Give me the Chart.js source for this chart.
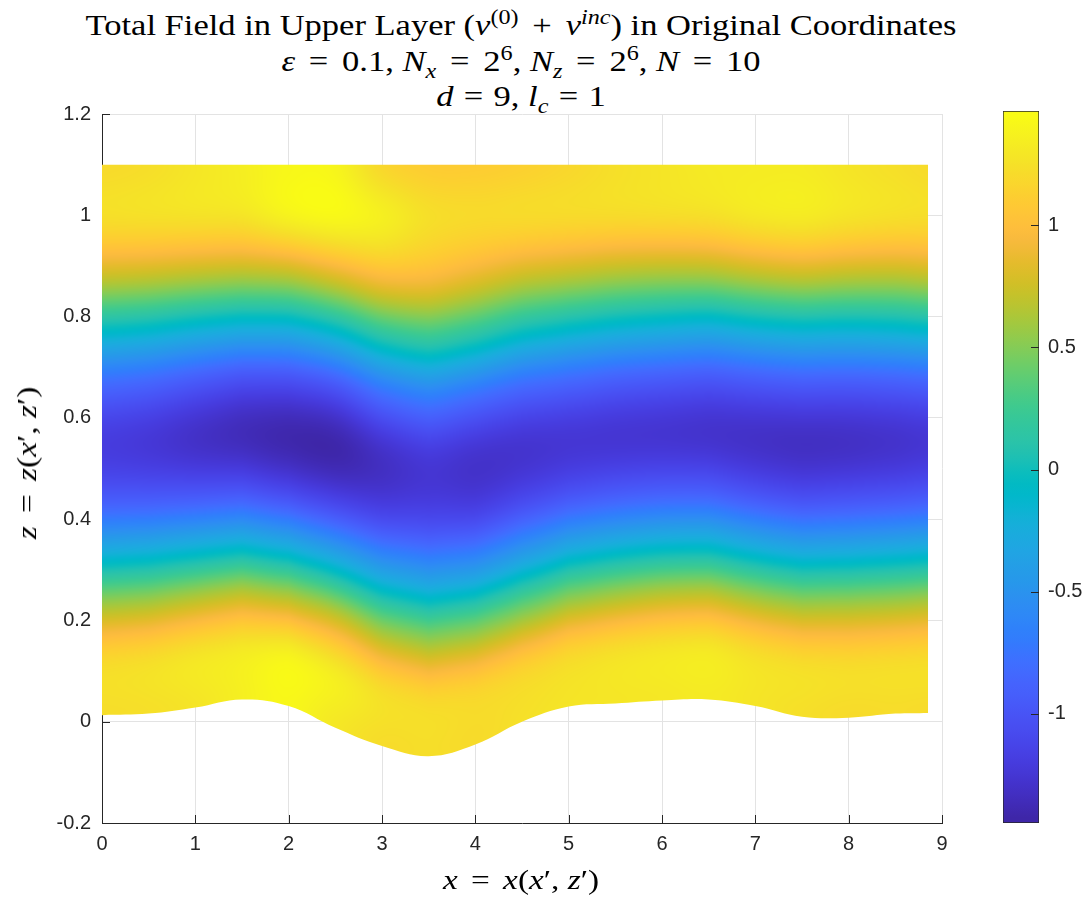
<!DOCTYPE html>
<html>
<head>
<meta charset="utf-8">
<script src="https://cdn.jsdelivr.net/npm/chart.js@4.4.1/dist/chart.umd.min.js"></script>
<style>
  body { margin: 0; background: #fff; }
  #page { position: relative; width: 1086px; height: 899px; overflow: hidden; background: #fff; }
  canvas { position: absolute; }
  .tx { position: absolute; font-family: "Liberation Serif", serif; color: #000; white-space: nowrap; }
  .ttl { left: 521px; font-size: 29px; line-height: 30px; transform: translateX(-50%) scaleX(1.19); }
  .rel { margin: 0 0.4em; }
  .rel.tight { margin: 0 0.3em; }
  sup, sub { font-size: 0.7em; line-height: 0; }
</style>
</head>
<body>
<div id="page">
  <div class="tx ttl" style="top:10px">Total Field in Upper Layer (<i>v</i><sup>(0)</sup><span class="rel">+</span><i>v</i><sup><i>inc</i></sup>) in Original Coordinates</div>
  <div class="tx ttl" style="top:46px"><i>ε</i><span class="rel">=</span>0.1, <i>N</i><sub><i>x</i></sub><span class="rel">=</span>2<sup>6</sup>, <i>N</i><sub><i>z</i></sub><span class="rel">=</span>2<sup>6</sup>, <i>N</i><span class="rel">=</span>10</div>
  <div class="tx ttl" style="top:81px"><i>d</i><span class="rel tight">=</span>9, <i>l</i><sub><i>c</i></sub><span class="rel tight">=</span>1</div>
  <canvas id="field" width="1086" height="899" style="left:0;top:0"></canvas>
  <canvas id="cbar" width="106" height="760" style="left:980px;top:90px"></canvas>
  <div class="tx" style="left:521px;top:880px;font-size:28px;transform:translate(-50%,-50%) scaleX(1.19)"><i>x</i><span class="rel">=</span><i>x</i>(<i>x</i>′, <i>z</i>′)</div>
  <div class="tx" style="left:27px;top:463px;font-size:28px;transform:translate(-50%,-50%) rotate(-90deg) scaleX(1.19)"><i>z</i><span class="rel">=</span><i>z</i>(<i>x</i>′, <i>z</i>′)</div>
</div>
<script>
// grid columns along x and the lower boundary of the layer
const X_NODES  = [0, 0.5, 1, 1.5, 2, 2.5, 3, 3.5, 4, 4.5, 5, 5.5, 6, 6.5, 7, 7.5, 8, 8.5, 8.85];
const Z_BOTTOM = [0.013, 0.016, 0.028, 0.044, 0.031, -0.012, -0.048, -0.068, -0.045, 0.000,
                  0.030, 0.036, 0.042, 0.044, 0.031, 0.010, 0.008, 0.016, 0.017];
const Z_TOP = 1.1;
// terrain-following levels: 0 = bottom boundary, 1 = top of the layer
const S_LEVELS = [0, 0.1, 0.2, 0.3, 0.4, 0.5, 0.6, 0.7, 0.8, 0.9, 1];
// total field v at each level (rows) and column (cols)
const FIELD = [
  [ 1.25,  1.26,  1.30,  1.38,  1.44,  1.32,  1.24,  1.25,  1.23,  1.27,  1.30,  1.31,  1.32,  1.34,  1.30,  1.26,  1.23,  1.24,  1.23],
  [ 1.20,  1.23,  1.28,  1.31,  1.38,  1.34,  1.22,  1.18,  1.15,  1.14,  1.18,  1.24,  1.28,  1.30,  1.23,  1.22,  1.21,  1.21,  1.22],
  [ 0.60,  0.63,  0.67,  0.68,  0.67,  0.71,  0.57,  0.52,  0.49,  0.47,  0.53,  0.61,  0.66,  0.67,  0.60,  0.61,  0.63,  0.62,  0.65],
  [-0.27, -0.25, -0.24, -0.26, -0.30, -0.28, -0.37, -0.40, -0.44, -0.42, -0.35, -0.27, -0.23, -0.23, -0.30, -0.29, -0.26, -0.26, -0.23],
  [-0.99, -1.00, -1.03, -1.07, -1.13, -1.13, -1.14, -1.11, -1.15, -1.11, -1.06, -1.01, -0.99, -1.00, -1.06, -1.07, -1.04, -1.03, -1.00],
  [-1.21, -1.25, -1.32, -1.38, -1.43, -1.44, -1.33, -1.25, -1.29, -1.28, -1.26, -1.27, -1.28, -1.30, -1.32, -1.34, -1.33, -1.30, -1.27],
  [-0.84, -0.89, -0.97, -1.03, -1.06, -1.04, -0.84, -0.74, -0.81, -0.85, -0.86, -0.92, -0.95, -0.98, -0.96, -0.97, -0.98, -0.94, -0.91],
  [-0.05, -0.09, -0.15, -0.18, -0.20, -0.13,  0.07,  0.15,  0.07, -0.02, -0.06, -0.13, -0.17, -0.20, -0.15, -0.15, -0.17, -0.13, -0.09],
  [ 0.76,  0.74,  0.71,  0.70,  0.72,  0.81,  0.93,  0.92,  0.83,  0.75,  0.72,  0.67,  0.65,  0.66,  0.72,  0.74,  0.70,  0.70,  0.73],
  [ 1.24,  1.25,  1.26,  1.28,  1.38,  1.42,  1.37,  1.25,  1.21,  1.21,  1.21,  1.21,  1.22,  1.24,  1.30,  1.32,  1.27,  1.24,  1.23],
  [ 1.22,  1.25,  1.31,  1.37,  1.44,  1.42,  1.20,  1.12,  1.12,  1.15,  1.20,  1.26,  1.30,  1.34,  1.35,  1.35,  1.30,  1.26,  1.23]
];
const C_MIN = -1.447, C_MAX = 1.468;

const X_TICKS  = [0, 1, 2, 3, 4, 5, 6, 7, 8, 9];
const Y_TICKS  = [-0.2, 0, 0.2, 0.4, 0.6, 0.8, 1, 1.2];
const CB_TICKS = [-1, -0.5, 0, 0.5, 1];

// parula, 64 entries
const PARULA = [
  [0.2422,0.1504,0.6603],[0.2504,0.1650,0.7076],[0.2578,0.1818,0.7511],[0.2647,0.1978,0.7952],
  [0.2706,0.2147,0.8364],[0.2751,0.2342,0.8710],[0.2783,0.2559,0.8991],[0.2803,0.2782,0.9221],
  [0.2813,0.3006,0.9414],[0.2810,0.3228,0.9579],[0.2795,0.3447,0.9717],[0.2760,0.3667,0.9829],
  [0.2699,0.3892,0.9906],[0.2602,0.4123,0.9952],[0.2440,0.4358,0.9988],[0.2206,0.4603,0.9973],
  [0.1963,0.4847,0.9892],[0.1834,0.5074,0.9798],[0.1786,0.5289,0.9682],[0.1764,0.5499,0.9520],
  [0.1687,0.5703,0.9359],[0.1540,0.5902,0.9218],[0.1460,0.6091,0.9079],[0.1380,0.6276,0.8973],
  [0.1248,0.6459,0.8883],[0.1113,0.6635,0.8763],[0.0952,0.6798,0.8598],[0.0689,0.6948,0.8394],
  [0.0297,0.7082,0.8163],[0.0036,0.7203,0.7917],[0.0067,0.7312,0.7660],[0.0433,0.7411,0.7394],
  [0.0964,0.7500,0.7120],[0.1408,0.7584,0.6842],[0.1717,0.7670,0.6554],[0.1938,0.7758,0.6251],
  [0.2161,0.7843,0.5923],[0.2470,0.7918,0.5567],[0.2906,0.7973,0.5188],[0.3406,0.8008,0.4789],
  [0.3909,0.8029,0.4354],[0.4456,0.8024,0.3909],[0.5044,0.7993,0.3480],[0.5616,0.7942,0.3045],
  [0.6174,0.7876,0.2612],[0.6720,0.7793,0.2227],[0.7242,0.7698,0.1910],[0.7738,0.7598,0.1646],
  [0.8203,0.7498,0.1535],[0.8634,0.7406,0.1596],[0.9035,0.7330,0.1774],[0.9393,0.7288,0.2100],
  [0.9728,0.7298,0.2394],[0.9956,0.7434,0.2371],[0.9970,0.7659,0.2199],[0.9952,0.7893,0.2028],
  [0.9892,0.8136,0.1885],[0.9786,0.8386,0.1766],[0.9676,0.8639,0.1643],[0.9610,0.8890,0.1537],
  [0.9597,0.9135,0.1423],[0.9628,0.9373,0.1265],[0.9691,0.9606,0.1064],[0.9769,0.9839,0.0805]
];

const AXIS = '#262626';
const GRID = '#e3e3e3';
const TICK_FONT = { family: '"Liberation Sans", Arial, sans-serif', size: 20 };

const clamp = (v, a, b) => Math.max(a, Math.min(b, v));
const fmt = (v) => String(+(+v).toFixed(2));

function parula(v) {
  const f = clamp((v - C_MIN) / (C_MAX - C_MIN), 0, 1) * (PARULA.length - 1);
  const i = Math.min(Math.floor(f), PARULA.length - 2), t = f - i;
  const a = PARULA[i], b = PARULA[i + 1];
  return [0, 1, 2].map(k => Math.round(255 * (a[k] + (b[k] - a[k]) * t)));
}

// Catmull-Rom between p1 and p2 (smooth shading between grid nodes)
function cr(p0, p1, p2, p3, t) {
  return 0.5 * (2 * p1 + (p2 - p0) * t + (2 * p0 - 5 * p1 + 4 * p2 - p3) * t * t + (3 * p1 - p0 - 3 * p2 + p3) * t * t * t);
}
function interval(nodes, v) {
  let i = 0;
  while (i < nodes.length - 2 && v > nodes[i + 1]) i++;
  return [i, clamp((v - nodes[i]) / (nodes[i + 1] - nodes[i]), 0, 1)];
}
const at = (arr, i) => arr[clamp(i, 0, arr.length - 1)];

// paint the field into an offscreen canvas and keep it as the fill pattern
const fieldPainter = {
  id: 'fieldPainter',
  afterLayout(chart) {
    const a = chart.chartArea, xs = chart.scales.x, ys = chart.scales.y;
    const W = chart.canvas.width, H = chart.canvas.height;
    const off = document.createElement('canvas');
    off.width = W; off.height = H;
    const g = off.getContext('2d');
    const img = g.createImageData(W, H), d = img.data;
    const xLast = X_NODES[X_NODES.length - 1];
    for (let px = Math.floor(a.left); px < Math.ceil(a.right); px++) {
      const xv = xs.getValueForPixel(px + 0.5);
      if (xv < X_NODES[0] - 0.02 || xv > xLast + 0.02) continue;
      const [i, tx] = interval(X_NODES, clamp(xv, X_NODES[0], xLast));
      const zb = Z_BOTTOM[i] + (Z_BOTTOM[i + 1] - Z_BOTTOM[i]) * tx;
      const col = FIELD.map(row => cr(at(row, i - 1), row[i], row[i + 1], at(row, i + 2), tx));
      for (let py = Math.floor(a.top); py < Math.ceil(a.bottom); py++) {
        const zv = ys.getValueForPixel(py + 0.5);
        const s = (zv - zb) / (Z_TOP - zb);
        if (s < -0.08 || s > 1.03) continue;
        const [j, ty] = interval(S_LEVELS, clamp(s, 0, 1));
        const v = cr(at(col, j - 1), col[j], col[j + 1], at(col, j + 2), ty);
        const c = parula(v), k = (py * W + px) * 4;
        d[k] = c[0]; d[k + 1] = c[1]; d[k + 2] = c[2]; d[k + 3] = 255;
      }
    }
    g.putImageData(img, 0, 0);
    chart.$fieldPattern = chart.ctx.createPattern(off, 'no-repeat');
  }
};

// MATLAB-style tick marks pointing into the axes
const inwardTicks = {
  id: 'inwardTicks',
  beforeDatasetsDraw(chart) {
    const { ctx, chartArea: a, scales: { x, y } } = chart;
    ctx.save();
    ctx.strokeStyle = AXIS; ctx.lineWidth = 1;
    ctx.beginPath();
    X_TICKS.forEach(v => { const p = Math.round(x.getPixelForValue(v)) + 0.5; ctx.moveTo(p, a.bottom); ctx.lineTo(p, a.bottom - 8); });
    Y_TICKS.forEach(v => { const p = Math.round(y.getPixelForValue(v)) + 0.5; ctx.moveTo(a.left, p); ctx.lineTo(a.left + 8, p); });
    ctx.stroke();
    ctx.restore();
  }
};

const transparent = 'rgba(0,0,0,0)';

new Chart(document.getElementById('field'), {
  type: 'line',
  data: {
    datasets: [
      { data: X_NODES.map(x => ({ x, y: Z_TOP })), fill: '+1',
        backgroundColor: (c) => c.chart.$fieldPattern || transparent,
        borderColor: transparent, borderWidth: 0, pointRadius: 0 },
      { data: X_NODES.map((x, i) => ({ x, y: Z_BOTTOM[i] })), fill: false,
        borderColor: transparent, borderWidth: 0, pointRadius: 0, tension: 0.4 }
    ]
  },
  options: {
    responsive: false, animation: false, events: [],
    layout: { padding: { left: 0, top: 114, right: 144, bottom: 36 } },
    plugins: { legend: { display: false }, tooltip: { enabled: false } },
    scales: {
      x: {
        type: 'linear', min: 0, max: 9,
        afterBuildTicks: (s) => { s.ticks = X_TICKS.map(value => ({ value })); },
        afterFit: (s) => { s.height = 40; },
        grid: { color: GRID, drawTicks: false },
        border: { color: AXIS },
        ticks: { color: AXIS, font: TICK_FONT, padding: 9, maxRotation: 0, callback: fmt }
      },
      y: {
        type: 'linear', min: -0.2, max: 1.2,
        afterBuildTicks: (s) => { s.ticks = Y_TICKS.map(value => ({ value })); },
        afterFit: (s) => { s.width = 102; },
        grid: { color: GRID, drawTicks: false },
        border: { color: AXIS },
        ticks: { color: AXIS, font: TICK_FONT, padding: 11, callback: fmt }
      }
    }
  },
  plugins: [fieldPainter, inwardTicks]
});

// colour bar: one floating bar spanning the colour limits
const cbTicks = {
  id: 'cbTicks',
  afterDatasetsDraw(chart) {
    const { ctx, chartArea: a, scales: { y } } = chart;
    ctx.save();
    ctx.strokeStyle = AXIS; ctx.lineWidth = 1;
    ctx.beginPath();
    CB_TICKS.forEach(v => { const p = Math.round(y.getPixelForValue(v)) + 0.5; ctx.moveTo(a.right - 8, p); ctx.lineTo(a.right, p); });
    ctx.stroke();
    ctx.restore();
  }
};

new Chart(document.getElementById('cbar'), {
  type: 'bar',
  data: {
    labels: [''],
    datasets: [{
      data: [[C_MIN, C_MAX]],
      backgroundColor: (c) => {
        const a = c.chart.chartArea;
        if (!a) return transparent;
        const grad = c.chart.ctx.createLinearGradient(0, a.bottom, 0, a.top);
        PARULA.forEach((p, i) => grad.addColorStop((i + 0.5) / PARULA.length,
          `rgb(${Math.round(p[0] * 255)},${Math.round(p[1] * 255)},${Math.round(p[2] * 255)})`));
        return grad;
      },
      borderColor: AXIS, borderWidth: 1, borderSkipped: false,
      barPercentage: 1, categoryPercentage: 1
    }]
  },
  options: {
    responsive: false, animation: false, events: [],
    layout: { padding: { left: 23, top: 20, right: 0, bottom: 27 } },
    plugins: { legend: { display: false }, tooltip: { enabled: false } },
    scales: {
      x: { display: false },
      y: {
        position: 'right', min: C_MIN, max: C_MAX,
        afterBuildTicks: (s) => { s.ticks = CB_TICKS.map(value => ({ value })); },
        afterFit: (s) => { s.width = 47; },
        grid: { display: false, drawTicks: false },
        border: { display: false },
        ticks: { color: AXIS, font: TICK_FONT, padding: 9, callback: fmt }
      }
    }
  },
  plugins: [cbTicks]
});
</script>
</body>
</html>
